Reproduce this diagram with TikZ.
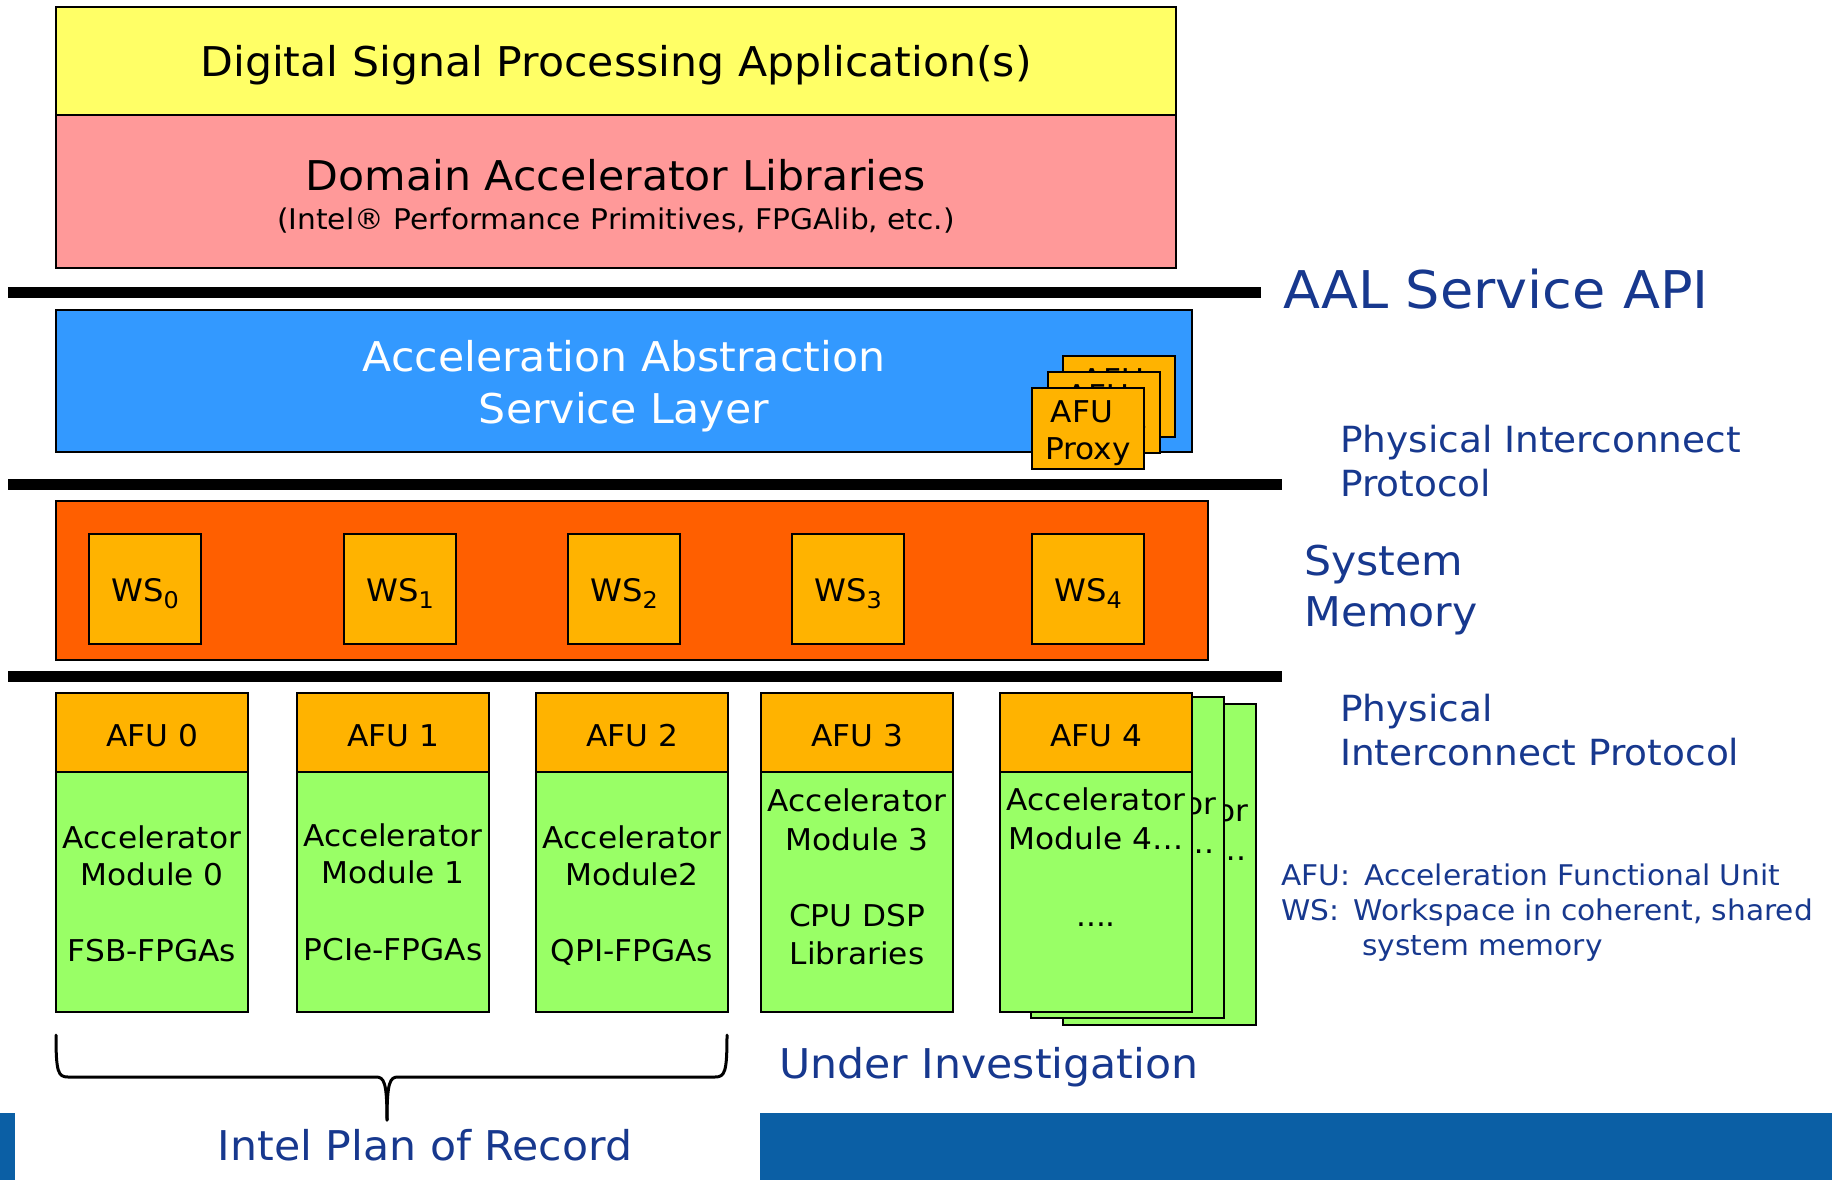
\documentclass[tikz,border=0pt]{standalone}
\usepackage{fontspec}
\setmainfont{DejaVu Sans}[FakeStretch=1.04]
\definecolor{appyellow}{HTML}{FFFF66}
\definecolor{libpink}{HTML}{FF9999}
\definecolor{aalblue}{HTML}{3399FF}
\definecolor{memorange}{HTML}{FF5F00}
\definecolor{afuorange}{HTML}{FFB300}
\definecolor{modgreen}{HTML}{99FF66}
\definecolor{textblue}{HTML}{17388E}
\definecolor{barblue}{HTML}{0B5FA5}
\newcommand\fsz[1]{\fontsize{#1}{#1}\selectfont}
\begin{document}
\begin{tikzpicture}[x=1pt,y=-1pt,
  layer/.style={draw=black, line width=2.5pt, anchor=north west, inner sep=0pt, outer sep=0pt},
  lbl/.style={anchor=base, inner sep=0pt},
  side/.style={anchor=base west, inner sep=0pt, text=textblue},
  bar/.style={line width=11pt},
  big/.style={font=\fsz{41}},
  boxtxt/.style={font=\fsz{30}},
  wstxt/.style={lbl, font=\fsz{31}}]
\useasboundingbox (0,0) rectangle (1832,1180);

% application and library layers
\node[layer, fill=appyellow, minimum width=1120pt, minimum height=108pt] (dsp) at (56,7) {};
\node[layer, fill=libpink, minimum width=1120pt, minimum height=153pt] (dal) at (56,115) {};
\node[lbl, big] (dsptxt) at (616,77) {Digital Signal Processing Application(s)};
\node[lbl, big] (daltxt) at (616,190) {Domain Accelerator Libraries};
\node[lbl, font=\fsz{28.5}] (dalsub) at (616,229) {(Intel® Performance Primitives, FPGAlib, etc.)};

% separator bars
\coordinate (barA-w) at (8,292);  \coordinate (barA-e) at (1261,292);
\coordinate (barB-w) at (8,484);  \coordinate (barB-e) at (1282,484);
\coordinate (barC-w) at (8,676);  \coordinate (barC-e) at (1282,676);
\draw[bar] (barA-w) -- (barA-e);
\draw[bar] (barB-w) -- (barB-e);
\draw[bar] (barC-w) -- (barC-e);

% service layer with stacked AFU proxies
\node[layer, fill=aalblue, minimum width=1136pt, minimum height=142pt] (aal) at (56,310) {};
\node[lbl, big, text=white] (aaltxt1) at (624,371) {Acceleration Abstraction};
\node[lbl, big, text=white] (aaltxt2) at (624,423) {Service Layer};
\foreach \n/\x/\y in {3/1063/356, 2/1048/372} {
  \node[layer, fill=afuorange, minimum width=112pt, minimum height=81pt] (proxy\n) at (\x,\y) {};
  \node[lbl, boxtxt] (proxy\n a) at (\x+50,\y+34) {AFU};
  \node[lbl, boxtxt] (proxy\n b) at (\x+56,\y+71) {Proxy};
}
\node[layer, fill=afuorange, minimum width=112pt, minimum height=81pt] (proxy1) at (1032,388) {};
\node[lbl, boxtxt] (proxyA) at (1082,422) {AFU};
\node[lbl, boxtxt] (proxyB) at (1088,459) {Proxy};

% system memory with workspaces
\node[layer, fill=memorange, minimum width=1152pt, minimum height=159pt] (sysmem) at (56,501) {};
\foreach \i/\x in {0/89, 1/344, 2/568, 3/792, 4/1032} {
  \node[layer, fill=afuorange, minimum width=112pt, minimum height=110pt] (ws\i) at (\x,534) {};
  \node[wstxt] (ws\i txt) at (\x+56,601) {WS\raisebox{-7pt}{\fsz{23}\i}};
}

% accelerator function units
\foreach \i/\x in {0/56, 1/297, 2/536, 3/761} {
  \node[layer, fill=afuorange, minimum width=192pt, minimum height=79pt] (afu\i h) at (\x,693) {};
  \node[layer, fill=modgreen, minimum width=192pt, minimum height=240pt] (afu\i b) at (\x,772) {};
  \node[lbl, boxtxt] (afu\i t) at (\x+96,746) {AFU \i};
}
\node[lbl, boxtxt] (m0a) at (152,848) {Accelerator};
\node[lbl, boxtxt] (m0b) at (152,885) {Module 0};
\node[lbl, boxtxt] (m0c) at (152,961) {FSB-FPGAs};
\node[lbl, boxtxt] (m1a) at (393,846) {Accelerator};
\node[lbl, boxtxt] (m1b) at (393,883) {Module 1};
\node[lbl, boxtxt] (m1c) at (393,960) {PCIe-FPGAs};
\node[lbl, boxtxt] (m2a) at (632,848) {Accelerator};
\node[lbl, boxtxt] (m2b) at (632,885) {Module2};
\node[lbl, boxtxt] (m2c) at (632,961) {QPI-FPGAs};
\node[lbl, boxtxt] (m3a) at (857,811) {Accelerator};
\node[lbl, boxtxt] (m3b) at (857,850) {Module 3};
\node[lbl, boxtxt] (m3c) at (857,926) {CPU DSP};
\node[lbl, boxtxt] (m3d) at (857,964) {Libraries};

% AFU 4 and the units stacked behind it
\foreach \n/\x/\y in {c/1063/704, b/1031/697} {
  \node[layer, fill=modgreen, minimum width=193pt, minimum height=321pt] (afu4\n) at (\x,\y) {};
  \node[lbl, boxtxt] (afu4\n a) at (\x+96,\y+117) {Accelerator};
  \node[lbl, boxtxt] (afu4\n b) at (\x+96,\y+156) {Module 4…};
}
\node[layer, fill=afuorange, minimum width=192pt, minimum height=79pt] (afu4h) at (1000,693) {};
\node[layer, fill=modgreen, minimum width=192pt, minimum height=240pt] (afu4a) at (1000,772) {};
\node[lbl, boxtxt] (afu4t) at (1096,746) {AFU 4};
\node[lbl, boxtxt] (m4a) at (1096,810) {Accelerator};
\node[lbl, boxtxt] (m4b) at (1096,849) {Module 4…};
\node[lbl, boxtxt] (m4c) at (1096,926) {....};

% right-hand labels
\node[side, font=\fsz{52}] (api) at (1283,308) {AAL Service API};
\node[side, font=\fsz{36}] (pip1a) at (1340,452) {Physical Interconnect};
\node[side, font=\fsz{36}] (pip1b) at (1340,496) {Protocol};
\node[side, big] (smem1) at (1304,575) {System};
\node[side, big] (smem2) at (1304,626) {Memory};
\node[side, font=\fsz{36}] (pip2a) at (1340,721) {Physical};
\node[side, font=\fsz{36}] (pip2b) at (1340,765) {Interconnect Protocol};
\node[side, font=\fsz{28.5}] (leg1) at (1281,885) {AFU:\, Acceleration Functional Unit};
\node[side, font=\fsz{28.5}] (leg2) at (1281,920) {WS:\, Workspace in coherent, shared};
\node[side, font=\fsz{28.5}] (leg3) at (1362,955) {system memory};
\node[side, big] (under) at (779,1078) {Under Investigation};

% brace over the plan-of-record units
\draw[line width=3pt, line join=round, line cap=round]
  (56,1035) .. controls (56,1072) and (58,1077) .. (68,1077) -- (376,1077)
  .. controls (384,1077) and (387,1082) .. (387,1120);
\draw[line width=3pt, line join=round, line cap=round]
  (727,1035) .. controls (727,1072) and (725,1077) .. (715,1077) -- (398,1077)
  .. controls (390,1077) and (387,1082) .. (387,1120);
\node[lbl, big, text=textblue] (por) at (425,1160) {Intel Plan of Record};

% footer bands
\fill[barblue] (0,1113) rectangle (15,1180);
\fill[barblue] (760,1113) rectangle (1832,1180);
\end{tikzpicture}
\end{document}
